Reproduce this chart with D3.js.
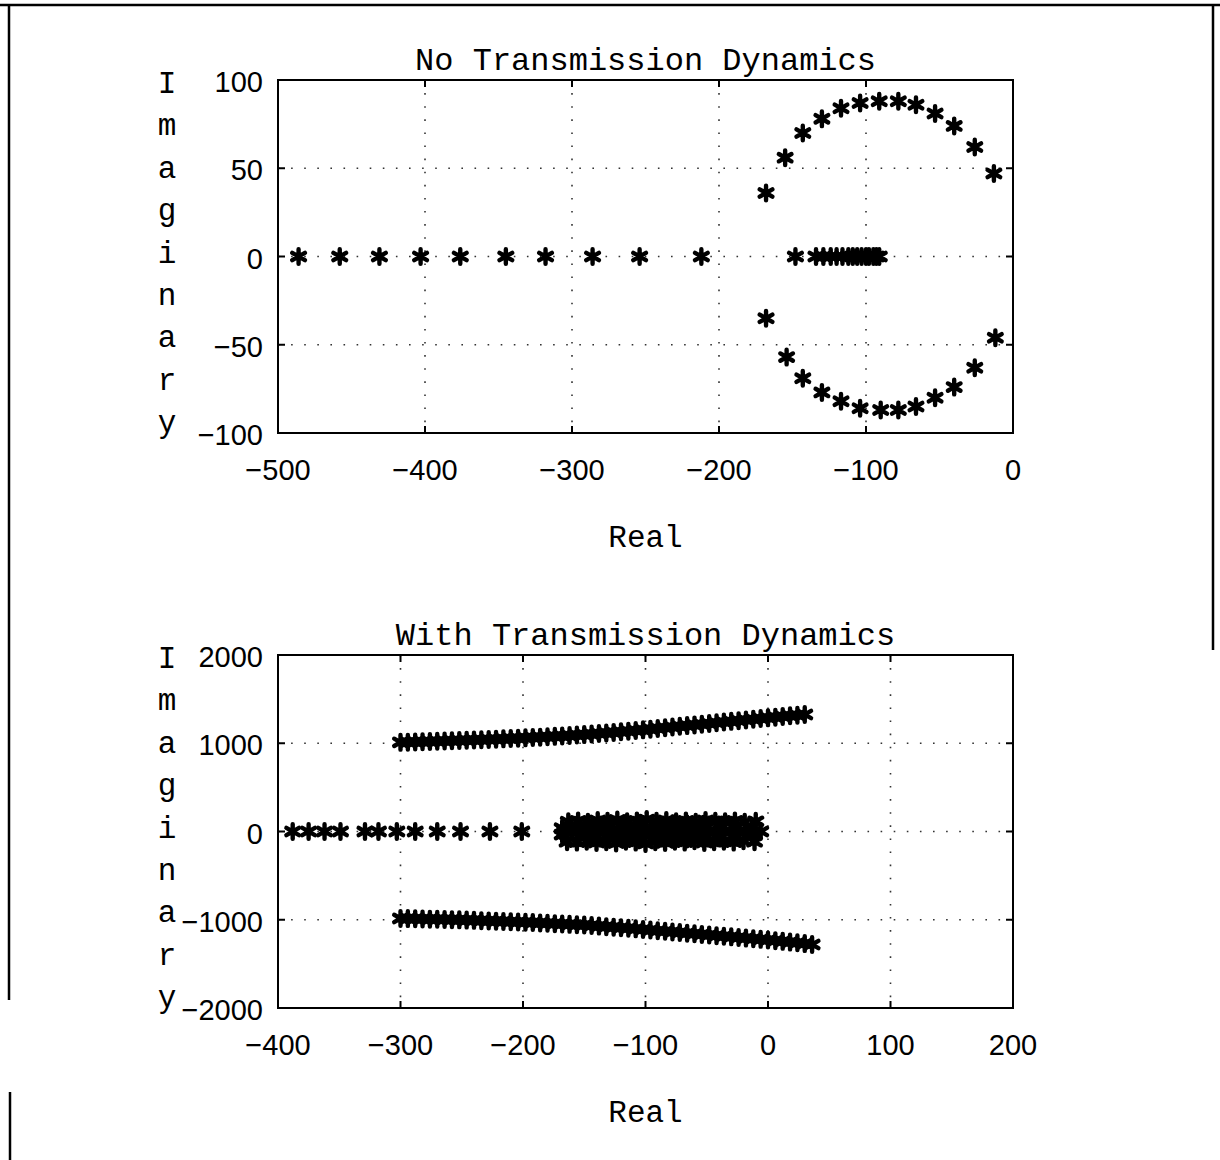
<!DOCTYPE html>
<html>
<head>
<meta charset="utf-8">
<script src="https://cdn.jsdelivr.net/npm/d3@7"></script>
<style>
  body { margin: 0; background: #fff; }
  svg text { fill: #000; }
  .mono { font-family: "Liberation Mono", "DejaVu Sans Mono", monospace; }
  .num { font-family: "Liberation Sans", Arial, sans-serif; }
</style>
</head>
<body>
<div class="rootlocus"></div>
<script>
// ---- data: top panel (no transmission dynamics) ----
var topAxisRe = [-486, -458, -431, -403, -376, -345, -318, -286, -254, -212, -148,
  -134, -129, -124, -120, -116, -112, -109, -106, -103, -100, -98, -95, -93, -91];
var topUpperRe = [-168, -155, -143, -130, -117, -104, -91, -78, -66, -53, -40, -26, -13];
var topUpperIm = [36, 56, 70, 78, 84, 87, 88, 88, 86, 81, 74, 62, 47];
var topLowerRe = [-168, -154, -143, -130, -117, -104, -90, -78, -66, -53, -40, -26, -12];
var topLowerIm = [-35, -57, -69, -77, -82, -86, -87, -87, -85, -80, -74, -63, -46];

// ---- data: bottom panel (with transmission dynamics) ----
var botAxisRe = [-388, -375, -362, -349, -329, -318, -303, -288, -270, -251, -227, -201];
var botClusterRe = [-166, -160, -155, -149, -143, -138, -132, -127, -121, -116, -110, -105,
  -100, -95, -89, -84, -78, -72, -66, -60, -54, -48, -42, -36, -30, -24, -18, -12, -6];
var botClusterUpRe = [-163, -155, -147, -139, -131, -123, -115, -107, -99, -91, -83, -75,
  -67, -59, -51, -43, -35, -27, -19, -10];
var botClusterUpIm = [110, 120, 105, 125, 115, 130, 110, 120, 135, 115, 125, 110,
  120, 105, 125, 115, 110, 120, 105, 115];
var botClusterDnRe = [-164, -156, -148, -140, -132, -124, -116, -108, -100, -92, -84, -76,
  -68, -60, -52, -44, -36, -28, -20, -11];
var botClusterDnIm = [-115, -120, -110, -125, -115, -130, -110, -120, -135, -115, -125, -110,
  -120, -105, -125, -115, -110, -120, -105, -115];
var botUpperRe = [-300, -294, -288, -282, -276, -270, -264, -258, -252, -246, -240, -234,
  -228, -222, -216, -210, -204, -198, -192, -186, -180, -174, -168, -162, -156, -150,
  -144, -138, -132, -126, -120, -114, -108, -102, -96, -90, -84, -78, -72, -66, -60,
  -54, -48, -42, -36, -30, -24, -18, -12, -6, 0, 6, 12, 18, 24, 30];
var botUpperIm = [1010, 1012, 1015, 1017, 1020, 1022, 1025, 1028, 1031, 1034, 1037, 1040,
  1043, 1046, 1050, 1053, 1057, 1061, 1065, 1069, 1073, 1078, 1082, 1087, 1093, 1098,
  1104, 1110, 1117, 1123, 1130, 1137, 1145, 1152, 1160, 1168, 1176, 1184, 1192, 1200, 1208,
  1216, 1224, 1232, 1240, 1248, 1256, 1264, 1272, 1280, 1288, 1296, 1304, 1311, 1318, 1325];
var botLowerRe = [-300, -294, -288, -282, -276, -270, -264, -258, -252, -246, -240, -234,
  -228, -222, -216, -210, -204, -198, -192, -186, -180, -174, -168, -162, -156, -150,
  -144, -138, -132, -126, -120, -114, -108, -102, -96, -90, -84, -78, -72, -66, -60,
  -54, -48, -42, -36, -30, -24, -18, -12, -6, 0, 6, 12, 18, 24, 30, 36];
var botLowerIm = [-985, -987, -989, -991, -993, -995, -997, -999, -1001, -1004, -1007, -1010,
  -1013, -1016, -1019, -1022, -1025, -1028, -1032, -1036, -1040, -1044, -1048, -1052, -1056, -1060,
  -1066, -1072, -1078, -1084, -1090, -1096, -1103, -1110, -1117, -1124, -1131, -1138, -1145, -1152, -1159,
  -1166, -1173, -1180, -1187, -1194, -1201, -1208, -1215, -1222, -1229, -1237, -1245, -1253, -1261, -1270, -1280];

// ---- ticks & labels ----
var topXTicks = [-500, -400, -300, -200, -100, 0];
var topYTicks = [-100, -50, 0, 50, 100];
var botXTicks = [-400, -300, -200, -100, 0, 100, 200];
var botYTicks = [-2000, -1000, 0, 1000, 2000];
var yLetters = ["I", "m", "a", "g", "i", "n", "a", "r", "y"];

function pairs(re, im) {
  return re.map(function (r, i) { return [r, im ? im[i] : 0]; });
}

var W = 1220, H = 1160;
var svg = d3.select(".rootlocus").append("svg")
  .attr("width", W).attr("height", H)
  .attr("viewBox", "0 0 " + W + " " + H);
svg.append("rect").attr("width", W).attr("height", H).attr("fill", "#fff");

// scanned page frame
var frame = svg.append("g").attr("stroke", "#000").attr("stroke-width", 2.5);
frame.append("line").attr("x1", 0).attr("x2", W).attr("y1", 5).attr("y2", 5);
frame.append("line").attr("x1", 9).attr("x2", 9).attr("y1", 5).attr("y2", 1000);
frame.append("line").attr("x1", 10).attr("x2", 10).attr("y1", 1092).attr("y2", H);
frame.append("line").attr("x1", 1213).attr("x2", 1213).attr("y1", 5).attr("y2", 650);

var star = d3.symbol().type(d3.symbolAsterisk).size(150);

function panel(cfg) {
  var x = d3.scaleLinear().domain(cfg.xDomain).range([cfg.left, cfg.right]);
  var y = d3.scaleLinear().domain(cfg.yDomain).range([cfg.bottom, cfg.top]);
  var g = svg.append("g");

  // dotted grid
  var grid = g.append("g").attr("stroke", "#333").attr("stroke-width", 1.6)
    .attr("stroke-dasharray", "1.6,11.5");
  grid.selectAll(".gx").data(cfg.xTicks.slice(1, -1)).enter().append("line")
    .attr("x1", function (d) { return x(d); }).attr("x2", function (d) { return x(d); })
    .attr("y1", cfg.top).attr("y2", cfg.bottom);
  grid.selectAll(".gy").data(cfg.yTicks.slice(1, -1)).enter().append("line")
    .attr("y1", function (d) { return y(d); }).attr("y2", function (d) { return y(d); })
    .attr("x1", cfg.left).attr("x2", cfg.right);

  // inward ticks on all sides
  var tk = g.append("g").attr("stroke", "#000").attr("stroke-width", 2);
  cfg.xTicks.forEach(function (d) {
    tk.append("line").attr("x1", x(d)).attr("x2", x(d)).attr("y1", cfg.bottom).attr("y2", cfg.bottom - 7);
    tk.append("line").attr("x1", x(d)).attr("x2", x(d)).attr("y1", cfg.top).attr("y2", cfg.top + 7);
  });
  cfg.yTicks.forEach(function (d) {
    tk.append("line").attr("y1", y(d)).attr("y2", y(d)).attr("x1", cfg.left).attr("x2", cfg.left + 7);
    tk.append("line").attr("y1", y(d)).attr("y2", y(d)).attr("x1", cfg.right).attr("x2", cfg.right - 7);
  });

  // markers
  g.append("g").selectAll("path").data(cfg.points).enter().append("path")
    .attr("d", star)
    .attr("transform", function (d) { return "translate(" + x(d[0]) + "," + y(d[1]) + ")"; })
    .attr("fill", "none").attr("stroke", "#000").attr("stroke-width", 4.4)
    .attr("stroke-linecap", "round");

  // axes box
  g.append("rect").attr("x", cfg.left).attr("y", cfg.top)
    .attr("width", cfg.right - cfg.left).attr("height", cfg.bottom - cfg.top)
    .attr("fill", "none").attr("stroke", "#000").attr("stroke-width", 2);

  // tick labels
  g.selectAll(".xl").data(cfg.xTicks).enter().append("text")
    .attr("class", "num").attr("font-size", 29)
    .attr("x", function (d) { return x(d); }).attr("y", cfg.bottom + 47)
    .attr("text-anchor", "middle")
    .text(function (d) { return d3.format("d")(d); });
  g.selectAll(".yl").data(cfg.yTicks).enter().append("text")
    .attr("class", "num").attr("font-size", 29)
    .attr("x", cfg.left - 15).attr("y", function (d) { return y(d) + 12; })
    .attr("text-anchor", "end")
    .text(function (d) { return d3.format("d")(d); });

  // title, x label, stacked y label
  var cx = (cfg.left + cfg.right) / 2;
  g.append("text").attr("class", "mono").attr("font-size", 32)
    .attr("x", cx).attr("y", cfg.top - 10).attr("text-anchor", "middle").text(cfg.title);
  g.append("text").attr("class", "mono").attr("font-size", 31)
    .attr("x", cx).attr("y", cfg.bottom + 114).attr("text-anchor", "middle").text("Real");
  var step = (cfg.bottom - cfg.top - 14) / (yLetters.length - 1);
  g.selectAll(".yletter").data(yLetters).enter().append("text")
    .attr("class", "mono").attr("font-size", 31)
    .attr("x", 167).attr("y", function (d, i) { return cfg.top + 13 + i * step; })
    .attr("text-anchor", "middle").text(function (d) { return d; });
}

panel({
  left: 278, right: 1013, top: 80, bottom: 433,
  xDomain: [-500, 0], yDomain: [-100, 100],
  xTicks: topXTicks, yTicks: topYTicks,
  title: "No Transmission Dynamics",
  points: pairs(topAxisRe).concat(pairs(topUpperRe, topUpperIm), pairs(topLowerRe, topLowerIm))
});

panel({
  left: 278, right: 1013, top: 655, bottom: 1008,
  xDomain: [-400, 200], yDomain: [-2000, 2000],
  xTicks: botXTicks, yTicks: botYTicks,
  title: "With Transmission Dynamics",
  points: pairs(botAxisRe).concat(
    pairs(botClusterRe), pairs(botClusterUpRe, botClusterUpIm), pairs(botClusterDnRe, botClusterDnIm),
    pairs(topUpperRe, topUpperIm), pairs(topLowerRe, topLowerIm),
    pairs(botUpperRe, botUpperIm), pairs(botLowerRe, botLowerIm))
});
</script>
</body>
</html>
